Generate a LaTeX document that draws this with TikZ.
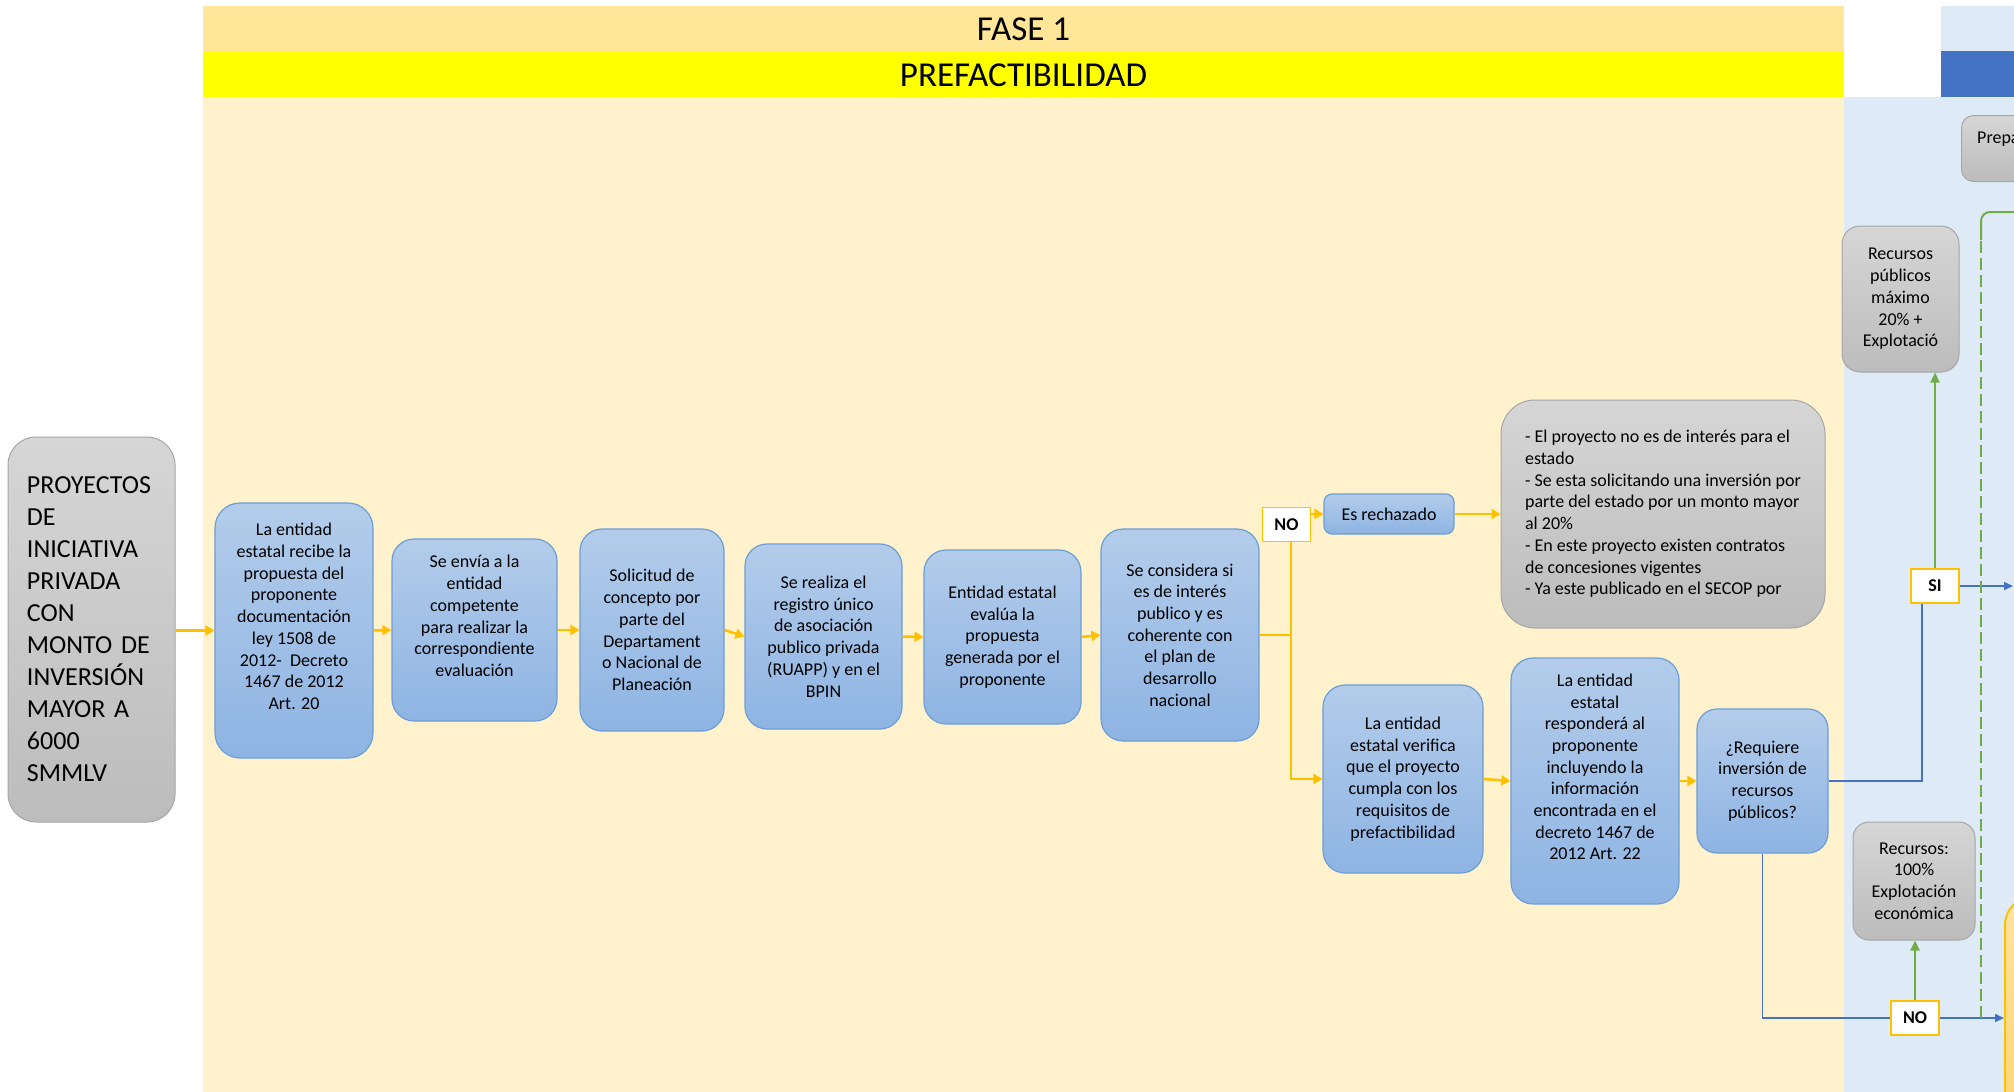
\documentclass[tikz,border=0pt]{standalone}
\usepackage{fontspec}
\setmainfont{Carlito}
\usetikzlibrary{arrows.meta}
\definecolor{cream}{HTML}{FFF2CC}
\definecolor{faseband}{HTML}{FFE699}
\definecolor{prefband}{HTML}{FFFF00}
\definecolor{lblue}{HTML}{DEEBF7}
\definecolor{dblue}{HTML}{4472C4}
\definecolor{arry}{HTML}{FFC000}
\definecolor{bluebd}{HTML}{6A9FD8}
\definecolor{bluetop}{HTML}{B3CCEA}
\definecolor{bluebot}{HTML}{8EB4E3}
\definecolor{graybd}{HTML}{A6A6A6}
\definecolor{graytop}{HTML}{D6D6D6}
\definecolor{graybot}{HTML}{BCBCBC}
\definecolor{lineblue}{HTML}{4472C4}
\definecolor{linegreen}{HTML}{70AD47}
\definecolor{orgtop}{HTML}{FFE39E}
\definecolor{orgbot}{HTML}{FFD166}
\begin{document}
\begin{tikzpicture}[x=1pt,y=-1pt,
  txt/.style={font=\fontsize{18}{21.7}\selectfont},
  bluebox/.style={txt, draw=bluebd, line width=1.2pt, rounded corners=22pt,
    top color=bluetop, bottom color=bluebot, align=center, inner sep=0pt},
  graybox/.style={txt, draw=graybd, line width=1pt, rounded corners=18pt,
    top color=graytop, bottom color=graybot, align=center, inner sep=0pt},
  decbox/.style={draw=arry, line width=1.8pt, fill=white, inner sep=0pt,
    minimum width=48pt, minimum height=34pt, font=\fontsize{18}{21}\selectfont\bfseries},
  yarr/.style={draw=arry, line width=2.5pt, -{Triangle[length=9pt,width=10pt]}},
  yline/.style={draw=arry, line width=2.5pt},
  barr/.style={draw=lineblue, line width=1.6pt, -{Triangle[length=9pt,width=8pt]}},
  bline/.style={draw=lineblue, line width=1.6pt},
  garr/.style={draw=linegreen, line width=2pt, -{Triangle[length=10pt,width=9pt]}},
  gline/.style={draw=linegreen, line width=2pt}
]
\clip (0,0) rectangle (2014,1092);
\fill[white] (0,0) rectangle (2014,1092);
% backgrounds
\fill[faseband] (203,6) rectangle (1844,51);
\fill[prefband] (203,51) rectangle (1844,97);
\fill[cream] (203,97) rectangle (1844,1092);
\fill[lblue] (1844,97) rectangle (2014,1092);
\fill[lblue] (1941,6) rectangle (2014,51);
\fill[dblue] (1941,51) rectangle (2014,97);
\node[font=\fontsize{35}{38}\selectfont] (fase) at (1023.5,29) {FASE 1};
\node[font=\fontsize{35}{38}\selectfont] (pref) at (1023.5,75) {PREFACTIBILIDAD};

% nodes
\node[graybox, rounded corners=28pt, minimum width=167pt, minimum height=385pt,
  text width=129pt, align=left, font=\fontsize{26}{32}\selectfont] (start) at (91.5,629.5)
  {PROYECTOS\\DE\\INICIATIVA\\PRIVADA\\CON\\MONTO DE\\INVERSIÓN\\MAYOR A\\6000\\SMMLV};
\node[bluebox, rounded corners=25pt, minimum width=158pt, minimum height=255pt] (n1) at (294,630.5)
  {La entidad\\estatal recibe la\\propuesta del\\proponente\\documentación\\ley 1508 de\\2012-\ \ Decreto\\1467 de 2012\\Art. 20\\ \strut};
\node[bluebox, minimum width=165pt, minimum height=182pt] (n2) at (474.5,630)
  {Se envía a la\\entidad\\competente\\para realizar la\\correspondiente\\evaluación\\ \strut};
\node[bluebox, minimum width=144pt, minimum height=202pt] (n3) at (652,630)
  {Solicitud de\\concepto por\\parte del\\Departament\\o Nacional de\\Planeación};
\node[bluebox, minimum width=157pt, minimum height=185pt] (n4) at (823.5,636.5)
  {Se realiza el\\registro único\\de asociación\\publico privada\\(RUAPP) y en el\\BPIN};
\node[bluebox, minimum width=157pt, minimum height=174pt] (n5) at (1002.5,637)
  {Entidad estatal\\evalúa la\\propuesta\\generada por el\\proponente};
\node[bluebox, minimum width=158pt, minimum height=212pt] (n6) at (1180,635)
  {Se considera si\\es de interés\\publico y es\\coherente con\\el plan de\\desarrollo\\nacional};
\node[decbox] (no1) at (1286.5,524.5) {NO};
\node[bluebox, rounded corners=8pt, minimum width=130pt, minimum height=40pt] (rech) at (1389,514)
  {Es rechazado};
\node[graybox, rounded corners=34pt, minimum width=324pt, minimum height=228pt, align=left] (gbig) at (1663,514)
  {- El proyecto no es de interés para el\\estado\\- Se esta solicitando una inversión por\\parte del estado por un monto mayor\\al 20\%\\- En este proyecto existen contratos\\de concesiones vigentes\\- Ya este publicado en el SECOP por};
\node[bluebox, minimum width=160pt, minimum height=188pt] (n7) at (1403,779)
  {La entidad\\estatal verifica\\que el proyecto\\cumpla con los\\requisitos de\\prefactibilidad};
\node[bluebox, minimum width=168pt, minimum height=246pt] (n8) at (1595,781)
  {La entidad\\estatal\\responderá al\\proponente\\incluyendo la\\información\\encontrada en el\\decreto 1467 de\\2012 Art. 22\\ \strut};
\node[bluebox, rounded corners=20pt, minimum width=131pt, minimum height=144pt] (n9) at (1762.5,781)
  {¿Requiere\\inversión de\\recursos\\públicos?};
\node[decbox] (si) at (1935,586) {SI};
\node[graybox, minimum width=117pt, minimum height=146pt] (rpub) at (1900.5,299)
  {Recursos\\públicos\\máximo\\20\% +\\Explotació};
\node[decbox] (no2) at (1915,1018) {NO};
\node[graybox, rounded corners=16pt, minimum width=122pt, minimum height=118pt] (r100) at (1914,881)
  {Recursos:\\100\%\\Explotación\\económica};
\node[graybox, rounded corners=12pt, anchor=north west, minimum width=200pt, minimum height=66pt] (prepa) at (1961,115) {};
\node[txt, anchor=base west, inner sep=0pt] (prepat) at (1977,143) {Prepa};
\node[draw=arry, line width=1.8pt, rounded corners=28pt, top color=orgtop, bottom color=orgbot,
  anchor=north west, minimum width=200pt, minimum height=300pt] (orange) at (2004,896) {};

% coordinates for free ends
\coordinate (sio) at (2013,586);
\coordinate (gd1) at (1981,1018);
\coordinate (gd2) at (1981,240);
\coordinate (gd3) at (2014,212);
\coordinate (trunk) at ([xshift=4.5pt]no1.south);

% yellow connectors
\draw[yarr] (start.east |- n1.west) -- (n1.west);
\draw[yarr] (n1.east) -- (n2.west);
\draw[yarr] (n2.east) -- (n3.west);
\draw[yarr] (n3.east) -- (n4.west);
\draw[yarr] (n4.east) -- (n5.west);
\draw[yarr] (n5.east) -- (n6.west);
\draw[yline] (n6.east) -- (n6.east -| trunk);
\draw[yarr] (trunk) |- (n7.west);
\draw[yarr] (no1.east |- rech.west) -- (rech.west);
\draw[yarr] (rech.east) -- (gbig.west);
\draw[yarr] (n7.east) -- (n8.west);
\draw[yarr] (n8.east) -- (n9.west);

% blue connectors
\draw[bline] (n9.east) -| ([xshift=-13pt]si.south);
\draw[barr] (si.east) -- (sio);
\draw[bline] (n9.south) |- (no2.west);
\draw[barr] (no2.east) -- (no2.east -| orange.west);

% green connectors
\draw[garr] (si.north) -- (si.north |- rpub.south);
\draw[garr] (no2.north) -- (no2.north |- r100.south);
\draw[gline, dash pattern=on 12pt off 5pt] (gd1) -- (gd2);
\draw[gline, rounded corners=9pt] (gd2) -- (1981,212) -- (gd3);
\end{tikzpicture}
\end{document}
